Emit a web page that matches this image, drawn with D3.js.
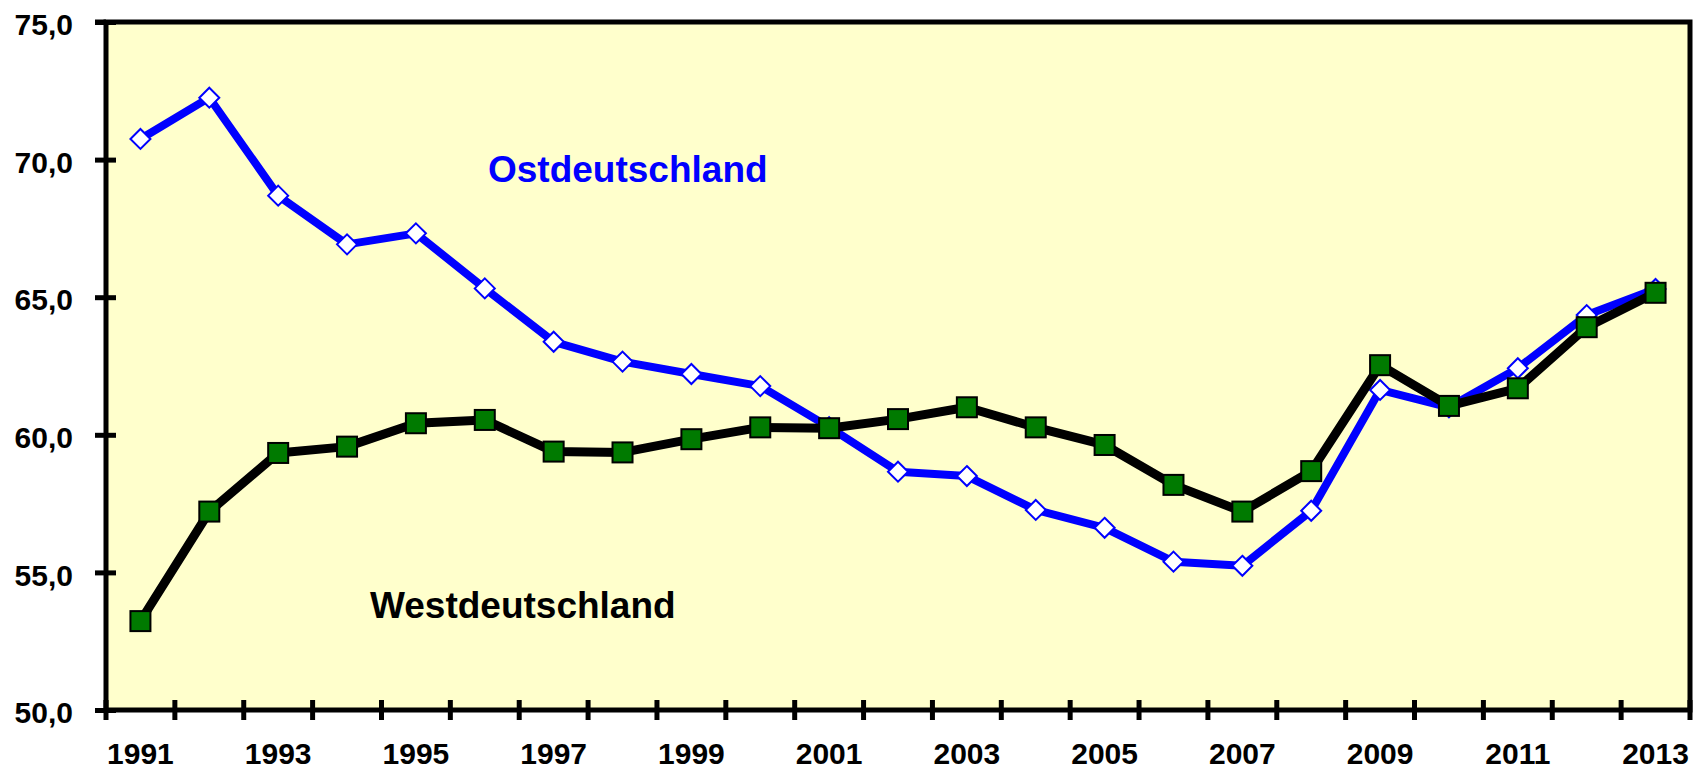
<!DOCTYPE html>
<html>
<head>
<meta charset="utf-8">
<script src="https://cdn.jsdelivr.net/npm/d3@7"></script>
<style>
  body {margin:0; background:white;}
  text {font-family:"Liberation Sans", Arial, sans-serif; font-weight:bold;}
</style>
</head>
<body>
<div id="chart"></div>
<script>
var chart_w=1707
var chart_h=770
var chart_Padding={top:22, bottom:60, left:106, right:17};

//Data
var years=["1991","1992","1993","1994","1995","1996","1997","1998","1999","2000","2001","2002",
           "2003","2004","2005","2006","2007","2008","2009","2010","2011","2012","2013"];
var ostValues=[70.75,72.25,68.69,66.92,67.32,65.32,63.38,62.66,62.21,61.77,60.28,58.66,
               58.50,57.27,56.62,55.39,55.24,57.24,61.63,61.00,62.42,64.35,65.30];
var westValues=[53.23,57.21,59.34,59.57,60.42,60.54,59.39,59.36,59.84,60.27,60.24,60.57,
                61.00,60.27,59.63,58.18,57.21,58.68,62.53,61.05,61.69,63.91,65.16];
var yTicks=[50,55,60,65,70,75];
var labelYears=years.filter(function(d,i) {return i%2==0;});

//Set up svg
var svg=d3.select("#chart")
          .append("svg")
          .attr("width",chart_w)
          .attr("height",chart_h);

//Scales
var xScale=d3.scaleBand()
             .domain(years)
             .range([chart_Padding.left,chart_w-chart_Padding.right])
             .padding(0);
var yScale=d3.scaleLinear()
             .domain([50,75])
             .range([chart_h-chart_Padding.bottom,chart_Padding.top]);
var xMid=function(d) {return xScale(d)+xScale.bandwidth()/2;};
var formatComma=function(d) {return d3.format(".1f")(d).replace(".",",");};

//Plot background
svg.append("rect")
   .attr("x",chart_Padding.left)
   .attr("y",chart_Padding.top)
   .attr("width",chart_w-chart_Padding.left-chart_Padding.right)
   .attr("height",chart_h-chart_Padding.top-chart_Padding.bottom)
   .attr("fill","#FFFFCC");

//Y axis with ticks crossing the line
var yAxis=d3.axisLeft(yScale)
            .tickValues(yTicks)
            .tickSize(10)
            .tickFormat(formatComma);
var yAxisG=svg.append("g")
              .attr("transform","translate("+chart_Padding.left+",0)")
              .call(yAxis);
yAxisG.select(".domain").remove();
yAxisG.selectAll(".tick line")
      .attr("x1",-11).attr("x2",10)
      .attr("stroke","black").attr("stroke-width",5);
yAxisG.selectAll(".tick text")
      .attr("x",-33)
      .attr("dy","0.42em")
      .attr("font-size",30)
      .attr("fill","black");

//X axis ticks at category boundaries
var xTickPos=years.map(function(d) {return xScale(d);}).concat([xScale.range()[1]]);
svg.append("g")
   .selectAll("line")
   .data(xTickPos)
   .enter()
   .append("line")
   .attr("x1",function(d) {return d;})
   .attr("x2",function(d) {return d;})
   .attr("y1",yScale(50)-10)
   .attr("y2",yScale(50)+10)
   .attr("stroke","black")
   .attr("stroke-width",5);

//X axis labels (every other year)
svg.append("g")
   .selectAll("text")
   .data(labelYears)
   .enter()
   .append("text")
   .attr("x",xMid)
   .attr("y",yScale(50)+54)
   .attr("text-anchor","middle")
   .attr("font-size",30)
   .text(function(d) {return d;});

//Plot frame
svg.append("rect")
   .attr("x",chart_Padding.left)
   .attr("y",chart_Padding.top)
   .attr("width",chart_w-chart_Padding.left-chart_Padding.right)
   .attr("height",chart_h-chart_Padding.top-chart_Padding.bottom)
   .attr("fill","none")
   .attr("stroke","black")
   .attr("stroke-width",5);
svg.append("line")
   .attr("x1",chart_Padding.left-11)
   .attr("x2",chart_Padding.left)
   .attr("y1",yScale(75))
   .attr("y2",yScale(75))
   .attr("stroke","black")
   .attr("stroke-width",5);

//Line generator
var line=d3.line()
           .x(function(d,i) {return xMid(years[i]);})
           .y(function(d) {return yScale(d);});

//Ostdeutschland series
svg.append("path")
   .datum(ostValues)
   .attr("d",line)
   .attr("fill","none")
   .attr("stroke","#0000FF")
   .attr("stroke-width",8)
   .attr("stroke-linejoin","round");
svg.append("g")
   .selectAll("path")
   .data(ostValues)
   .enter()
   .append("path")
   .attr("d","M0,-10 L10,0 L0,10 L-10,0 Z")
   .attr("transform",function(d,i) {return "translate("+xMid(years[i])+","+yScale(d)+")";})
   .attr("fill","white")
   .attr("stroke","#0000FF")
   .attr("stroke-width",2);

//Westdeutschland series
svg.append("path")
   .datum(westValues)
   .attr("d",line)
   .attr("fill","none")
   .attr("stroke","black")
   .attr("stroke-width",9)
   .attr("stroke-linejoin","round");
svg.append("g")
   .selectAll("rect")
   .data(westValues)
   .enter()
   .append("rect")
   .attr("x",function(d,i) {return xMid(years[i])-10;})
   .attr("y",function(d) {return yScale(d)-10;})
   .attr("width",20)
   .attr("height",20)
   .attr("fill","#007A00")
   .attr("stroke","black")
   .attr("stroke-width",2);

//Series labels
svg.append("text")
   .attr("x",488)
   .attr("y",182)
   .attr("font-size",37)
   .attr("fill","#0000FF")
   .text("Ostdeutschland");
svg.append("text")
   .attr("x",370)
   .attr("y",618)
   .attr("font-size",37)
   .attr("fill","black")
   .text("Westdeutschland");
</script>
</body>
</html>
